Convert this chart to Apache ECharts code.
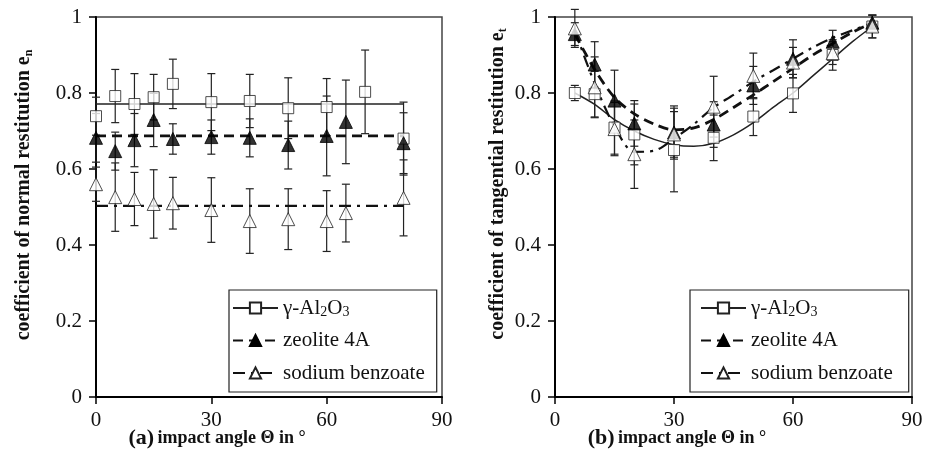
<!DOCTYPE html>
<html><head><meta charset="utf-8">
<script src="https://cdn.jsdelivr.net/npm/echarts@6/dist/echarts.min.js"></script>
<style>html,body{margin:0;padding:0;background:#fff}#c{width:933px;height:463px}</style>
</head><body><div id="c"></div>
<script>
// ---------- series names ----------
const seriesNames = ['γ-Al2O3', 'zeolite 4A', 'sodium benzoate'];
const xTickLabels = [0, 30, 60, 90];
const yTickLabels = [0, 0.2, 0.4, 0.6, 0.8, 1];

// ---------- panel (a): normal restitution ----------
const aAngleAl = [0, 5, 10, 15, 20, 30, 40, 50, 60, 70, 80];
const aEnAl    = [0.739, 0.792, 0.771, 0.789, 0.824, 0.776, 0.779, 0.760, 0.763, 0.803, 0.680];
const aErrAl   = [0.05, 0.07, 0.08, 0.06, 0.065, 0.075, 0.07, 0.08, 0.075, 0.11, 0.096];

const aAngleZe = [0, 5, 10, 15, 20, 30, 40, 50, 60, 65, 80];
const aEnZe    = [0.682, 0.647, 0.676, 0.729, 0.679, 0.684, 0.682, 0.663, 0.687, 0.724, 0.668];
const aErrZe   = [0.064, 0.05, 0.07, 0.07, 0.04, 0.045, 0.05, 0.063, 0.105, 0.11, 0.08];

const aAngleBz = [0, 5, 10, 15, 20, 30, 40, 50, 60, 65, 80];
const aEnBz    = [0.560, 0.526, 0.521, 0.508, 0.510, 0.492, 0.463, 0.468, 0.463, 0.484, 0.524];
const aErrBz   = [0.045, 0.09, 0.07, 0.09, 0.068, 0.085, 0.085, 0.08, 0.08, 0.076, 0.10];

const aMeanAngles = [0, 80];
const aMeanAl = [0.771, 0.771];
const aMeanZe = [0.687, 0.687];
const aMeanBz = [0.503, 0.503];

// ---------- panel (b): tangential restitution ----------
const bAngle = [5, 10, 15, 20, 30, 40, 50, 60, 70, 80];
const bEtAl  = [0.800, 0.797, 0.709, 0.691, 0.650, 0.682, 0.738, 0.799, 0.900, 0.975];
const bErrAl = [0.02, 0.06, 0.07, 0.08, 0.11, 0.06, 0.05, 0.05, 0.04, 0.03];
const bEtZe  = [0.955, 0.875, 0.780, 0.720, 0.696, 0.717, 0.820, 0.890, 0.935, 0.985];
const bErrZe = [0.03, 0.06, 0.08, 0.06, 0.07, 0.06, 0.05, 0.05, 0.03, 0.02];
const bEtBz  = [0.970, 0.815, 0.705, 0.639, 0.691, 0.764, 0.845, 0.880, 0.905, 0.975];
const bErrBz = [0.05, 0.08, 0.07, 0.09, 0.06, 0.08, 0.06, 0.04, 0.03, 0.03];

const bFitAngle = [5, 10, 15, 20, 25, 30, 35, 40, 45, 50, 55, 60, 65, 70, 75, 80];
const bFitAl = [0.800, 0.770, 0.730, 0.700, 0.678, 0.664, 0.660, 0.668, 0.690, 0.722, 0.762, 0.800, 0.845, 0.890, 0.935, 0.975];
const bFitZe = [0.955, 0.862, 0.788, 0.745, 0.718, 0.703, 0.708, 0.730, 0.762, 0.795, 0.830, 0.865, 0.900, 0.930, 0.960, 0.985];
const bFitBz = [0.965, 0.825, 0.712, 0.645, 0.648, 0.680, 0.718, 0.762, 0.795, 0.830, 0.860, 0.890, 0.920, 0.945, 0.965, 0.985];

// ---------- helpers ----------
const SERIF = 'Liberation Serif';
const zip = (xs, ys) => xs.map((x, i) => [x, ys[i]]);
const zipErr = (xs, ys, es) => xs.map((x, i) => [x, ys[i] - es[i], ys[i] + es[i]]);

const markerStyle = [
  { symbol: 'rect', symbolSize: 11, itemStyle: { color: '#fff', borderColor: '#222', borderWidth: 1 } },
  { symbol: 'triangle', symbolSize: 13, itemStyle: { color: '#000', borderColor: '#000', borderWidth: 1 } },
  { symbol: 'triangle', symbolSize: 13, itemStyle: { color: '#fff', borderColor: '#222', borderWidth: 1 } }
];
const lineStyles = [
  { color: '#222', width: 1.5, type: 'solid' },
  { color: '#111', width: 2.8, type: [10, 6] },
  { color: '#111', width: 2.2, type: [12, 6, 3, 6] }
];

function errRender(params, api) {
  const x = api.value(0), lo = api.value(1), hi = api.value(2);
  const p1 = api.coord([x, lo]), p2 = api.coord([x, hi]);
  const w = 4;
  const st = { stroke: '#222', lineWidth: 1.2, fill: null };
  return { type: 'group', children: [
    { type: 'line', shape: { x1: p1[0], y1: p1[1], x2: p2[0], y2: p2[1] }, style: st },
    { type: 'line', shape: { x1: p1[0] - w, y1: p1[1], x2: p1[0] + w, y2: p1[1] }, style: st },
    { type: 'line', shape: { x1: p2[0] - w, y1: p2[1], x2: p2[0] + w, y2: p2[1] }, style: st }
  ]};
}

function errSeries(idx, data) {
  return { type: 'custom', xAxisIndex: idx, yAxisIndex: idx, renderItem: errRender,
    encode: { x: 0, y: [1, 2] }, data: data, z: 1, silent: true };
}
function markSeries(idx, k, data) {
  return Object.assign({ type: 'scatter', xAxisIndex: idx, yAxisIndex: idx, data: data, z: 4, silent: true }, markerStyle[k]);
}
function lineSeries(idx, k, data, smooth) {
  return { type: 'line', name: seriesNames[k], xAxisIndex: idx, yAxisIndex: idx, data: data,
    symbol: markerStyle[k].symbol, showSymbol: false, itemStyle: markerStyle[k].itemStyle,
    lineStyle: lineStyles[k], smooth: smooth ? 0.3 : false, z: 3, silent: true };
}

const axisCommonX = (idx) => ({
  type: 'value', gridIndex: idx, min: 0, max: 90, interval: 30,
  axisLine: { show: true, onZero: false, lineStyle: { color: '#000', width: 2 } },
  axisTick: { show: true, length: 7, lineStyle: { color: '#000', width: 1.5 } },
  axisLabel: { fontFamily: SERIF, fontSize: 21, color: '#111', margin: 13,
    formatter: v => xTickLabels.includes(v) ? String(v) : '' },
  splitLine: { show: false }
});
const axisCommonY = (idx) => ({
  type: 'value', gridIndex: idx, min: 0, max: 1, interval: 0.2,
  axisLine: { show: true, onZero: false, lineStyle: { color: '#000', width: 2 } },
  axisTick: { show: true, length: 7, lineStyle: { color: '#000', width: 1.5 } },
  axisLabel: { fontFamily: SERIF, fontSize: 21, color: '#111', margin: 14,
    formatter: v => { const t = yTickLabels.find(y => Math.abs(y - v) < 1e-9); return t === undefined ? '' : String(t); } },
  splitLine: { show: false }
});

const legendCommon = {
  orient: 'vertical', itemWidth: 45, itemHeight: 14, itemGap: 8.5,
  backgroundColor: '#fff', borderColor: '#222', borderWidth: 1.2,
  selectedMode: false,
  data: seriesNames,
  textStyle: { fontFamily: SERIF, fontSize: 21, color: '#111', lineHeight: 24,
    rich: { t: { fontFamily: SERIF, fontSize: 21, color: '#111', lineHeight: 24 },
            s: { fontFamily: SERIF, fontSize: 14, color: '#111', lineHeight: 16, padding: [8, 0, 0, 0] } } },
  formatter: name => name === seriesNames[0] ? '{t|γ-Al}{s|2}{t|O}{s|3}' : '{t|' + name + '}'
};

const option = {
  animation: false,
  backgroundColor: '#fff',
  grid: [
    { left: 96, top: 17, width: 346, height: 380, show: true, borderColor: '#444', borderWidth: 1.5, backgroundColor: 'transparent' },
    { left: 555, top: 17, width: 357, height: 380, show: true, borderColor: '#444', borderWidth: 1.5, backgroundColor: 'transparent' }
  ],
  xAxis: [axisCommonX(0), axisCommonX(1)],
  yAxis: [axisCommonY(0), axisCommonY(1)],
  legend: [
    Object.assign({}, legendCommon, { left: 229, top: 290, padding: [6, 12, 7, 3] }),
    Object.assign({}, legendCommon, { left: 690, top: 290, padding: [6, 16, 7, 10] })
  ],
  graphic: [
    { type: 'text', x: 24, y: 195, rotation: Math.PI / 2, z: 10,
      style: { text: '{b|coefficient of normal restitution e}{s|n}', align: 'center', verticalAlign: 'middle',
        rich: { b: { fontFamily: SERIF, fontWeight: 'bold', fontSize: 20, fill: '#111' },
                s: { fontFamily: SERIF, fontWeight: 'bold', fontSize: 12, fill: '#111', padding: [10, 0, 0, 0] } } } },
    { type: 'text', x: 498, y: 184, rotation: Math.PI / 2, z: 10,
      style: { text: '{b|coefficient of tangential restitution e}{s|t}', align: 'center', verticalAlign: 'middle',
        rich: { b: { fontFamily: SERIF, fontWeight: 'bold', fontSize: 20, fill: '#111' },
                s: { fontFamily: SERIF, fontWeight: 'bold', fontSize: 12, fill: '#111', padding: [10, 0, 0, 0] } } } },
    { type: 'text', x: 217, y: 438, z: 10,
      style: { text: '{p|(a)} {q|impact angle Θ in °}', align: 'center', verticalAlign: 'middle',
        rich: { p: { fontFamily: SERIF, fontWeight: 'bold', fontSize: 22, fill: '#111' },
                q: { fontFamily: SERIF, fontWeight: 'bold', fontSize: 18, fill: '#111' } } } },
    { type: 'text', x: 677, y: 438, z: 10,
      style: { text: '{p|(b)} {q|impact angle Θ in °}', align: 'center', verticalAlign: 'middle',
        rich: { p: { fontFamily: SERIF, fontWeight: 'bold', fontSize: 22, fill: '#111' },
                q: { fontFamily: SERIF, fontWeight: 'bold', fontSize: 18, fill: '#111' } } } }
  ],
  series: [
    // panel (a)
    lineSeries(0, 0, zip(aMeanAngles, aMeanAl), false),
    lineSeries(0, 1, zip(aMeanAngles, aMeanZe), false),
    lineSeries(0, 2, zip(aMeanAngles, aMeanBz), false),
    errSeries(0, zipErr(aAngleAl, aEnAl, aErrAl)),
    errSeries(0, zipErr(aAngleZe, aEnZe, aErrZe)),
    errSeries(0, zipErr(aAngleBz, aEnBz, aErrBz)),
    markSeries(0, 0, zip(aAngleAl, aEnAl)),
    markSeries(0, 1, zip(aAngleZe, aEnZe)),
    markSeries(0, 2, zip(aAngleBz, aEnBz)),
    // panel (b)
    lineSeries(1, 0, zip(bFitAngle, bFitAl), true),
    lineSeries(1, 1, zip(bFitAngle, bFitZe), true),
    lineSeries(1, 2, zip(bFitAngle, bFitBz), true),
    errSeries(1, zipErr(bAngle, bEtAl, bErrAl)),
    errSeries(1, zipErr(bAngle, bEtZe, bErrZe)),
    errSeries(1, zipErr(bAngle, bEtBz, bErrBz)),
    markSeries(1, 0, zip(bAngle, bEtAl)),
    markSeries(1, 1, zip(bAngle, bEtZe)),
    markSeries(1, 2, zip(bAngle, bEtBz))
  ]
};

const chart = echarts.init(document.getElementById('c'), null, { renderer: 'canvas' });
chart.setOption(option);
</script>
</body></html>
